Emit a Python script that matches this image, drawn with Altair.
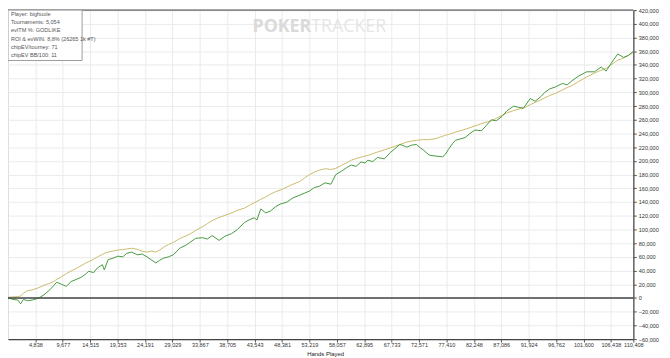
import altair as alt
import pandas as pd

# Hands played (x) and cumulative results (chips)
hands = [0, 859, 1717, 2232, 2747, 3434, 4293, 5151, 5666, 6525, 7383, 8070, 8585, 9444, 10302,
         11161, 12019, 12878, 13736, 14251, 15110, 15796, 16655, 16998, 17685, 18544, 19402, 20261,
         20947, 21806, 22836, 23695, 24553, 25412, 26098, 26785, 27472, 28331, 29189, 30391, 31421,
         32280, 33138, 34340, 35199, 36057, 37259, 38289, 39491, 40521, 41723, 42582, 43440, 43955,
         44642, 45501, 46359, 47218, 48076, 49278, 50308, 51510, 52369, 53227, 54086, 54944, 55974,
         57004, 57863, 58893, 59752, 60610, 61469, 62327, 63014, 63529, 64388, 65246, 66448, 67478,
         68337, 69195, 69882, 70397, 71256, 72114, 72629, 73316, 74346, 75548, 76750, 77265, 77780,
         78467, 78982, 79841, 80699, 81558, 82416, 83618, 84476, 85335, 86193, 87224, 88082, 89284,
         90143, 91001, 92203, 93061, 94092, 94778, 95637, 96667, 97869, 98728, 99586, 100788, 102162,
         103535, 104737, 105596, 106454, 107656, 108686, 109545, 110408]

net_won = [0, -2000, -3000, -8500, -2000, -4000, -3000, -1000, 1000, 5700, 12000, 18000, 23000, 20000,
           17000, 24000, 27000, 30000, 35000, 39000, 37000, 44000, 48500, 41000, 56000, 58000, 61000,
           60000, 65000, 67000, 63000, 64000, 60000, 55000, 51000, 55000, 58000, 60000, 63000, 73000,
           77000, 82000, 87000, 88000, 86000, 91000, 84000, 90000, 94000, 100000, 110000, 114000,
           117000, 114000, 130000, 124000, 127000, 133000, 137000, 140000, 146000, 150000, 153000,
           156000, 161000, 163000, 168000, 166000, 180000, 185000, 190000, 194000, 192000, 198500,
           197000, 201000, 199000, 205000, 203000, 212000, 218000, 224000, 222000, 220000, 223000,
           224000, 220000, 216000, 208500, 207000, 206000, 210000, 217000, 225000, 230000, 232000,
           234000, 240000, 245000, 244000, 252000, 260000, 258500, 265000, 273000, 280000, 278000,
           277000, 291000, 287000, 294000, 300000, 305000, 308000, 313000, 311000, 317000, 324000,
           330000, 330000, 337000, 331000, 342000, 356000, 351000, 354000, 360000]

ev_won = [1000, 1500, 2000, 3000, 7000, 10500, 12000, 14000, 16000, 19000, 21500, 24000, 27000, 31000,
          35500, 39500, 43000, 47000, 51000, 53000, 56500, 60000, 63500, 65000, 67000, 68500, 70000,
          70500, 71500, 72500, 71000, 68000, 67000, 68500, 67000, 70000, 74000, 78000, 81000, 87000,
          90500, 94000, 98500, 104000, 108500, 113000, 117500, 120500, 124000, 128000, 131000, 135000,
          139000, 141000, 144000, 147500, 151500, 155000, 157500, 162000, 166000, 170000, 175000,
          180000, 183500, 186500, 188500, 187500, 189000, 193500, 197000, 201000, 203500, 205500,
          207000, 208000, 210500, 213000, 216000, 219000, 221500, 224000, 226000, 227500, 229000,
          230000, 230500, 231000, 231000, 232500, 236000, 237500, 238500, 240500, 242000, 244000,
          246000, 248500, 251000, 254500, 256500, 258500, 262000, 266500, 270000, 273500, 275500,
          277000, 282000, 285500, 289000, 292000, 295500, 298500, 303500, 307000, 310000, 316000,
          322500, 328000, 332500, 335000, 340000, 347000, 350000, 354000, 358000]

x_ticks = [4838, 9677, 14515, 19353, 24191, 29029, 33867, 38705, 43543, 48381, 53219, 58057, 62895,
           67733, 72571, 77410, 82248, 87086, 91924, 96762, 101600, 106438, 110408]
y_ticks = [-60000, -40000, -20000, 0, 20000, 40000, 60000, 80000, 100000, 120000, 140000, 160000,
           180000, 200000, 220000, 240000, 260000, 280000, 300000, 320000, 340000, 360000, 380000,
           400000, 420000]

info_lines = ["Player: bighuole", "Tournaments: 5,054", "evITM %: GODLIKE",
              "ROI & evWIN: 8,8% (26265 1k #T)", "chipEV/tourney: 71", "chipEV BB/100: 11"]

series_names = ["EV", "Net Won"]
series_colors = ["#c9bb6c", "#45993f"]

df = pd.concat([
    pd.DataFrame({"hands": hands, "value": ev_won, "series": "EV", "order": 0}),
    pd.DataFrame({"hands": hands, "value": net_won, "series": "Net Won", "order": 1}),
])

x_scale = alt.Scale(domain=[0, 110408], nice=False, zero=False)
y_scale = alt.Scale(domain=[-60000, 420000], nice=False)

lines = alt.Chart(df).mark_line(strokeWidth=1, clip=True).encode(
    x=alt.X("hands:Q", scale=x_scale,
            axis=alt.Axis(title="Hands Played", values=x_ticks, tickCount=50, format=",.0f", grid=True,
                          gridColor="#ebebeb", domainColor="#444", domainWidth=1.2,
                          tickColor="#555", tickSize=3, labelFontSize=5.6, labelColor="#333",
                          labelPadding=1, titleFontSize=6, titleFontWeight="normal",
                          titleColor="#222", titlePadding=2, titleX=321, labelFlush=False,
                          labelOverlap=False)),
    y=alt.Y("value:Q", scale=y_scale,
            axis=alt.Axis(title=None, orient="right", values=y_ticks, tickCount=50, format=",.0f",
                          grid=True, gridColor="#ebebeb", domainColor="#444", domainWidth=1.2,
                          tickColor="#555", tickSize=3, labelFontSize=5.6, labelColor="#333",
                          labelPadding=2, labelOverlap=False, labelFlush=False)),
    color=alt.Color("series:N", scale=alt.Scale(domain=series_names, range=series_colors), legend=None),
    order="order:Q",
    detail="series:N",
)

one = pd.DataFrame({"a": [0]})

zero_rule = alt.Chart(one).mark_rule(color="#444", strokeWidth=1.4).encode(
    y=alt.datum(0, scale=y_scale), x=alt.value(0), x2=alt.value(633))

top_rule = alt.Chart(one).mark_rule(color="#8a8a8a", strokeWidth=1.6).encode(
    y=alt.value(0), x=alt.value(0), x2=alt.value(633))

wm1 = alt.Chart(one).mark_text(text="POKER", font="Open Sans", fontSize=18, fontWeight="bold",
                               color="#dadada", align="right", baseline="middle").encode(
    x=alt.value(307), y=alt.value(17))
wm2 = alt.Chart(one).mark_text(text="TRACKER", font="Open Sans", fontSize=18, fontWeight="normal",
                               color="#e6e6e6", align="left", baseline="middle").encode(
    x=alt.value(307), y=alt.value(17))

box = alt.Chart(one).mark_rect(fill="white", stroke="#9a9a9a", strokeWidth=1).encode(
    x=alt.value(0), x2=alt.value(75), y=alt.value(0), y2=alt.value(51))

info = alt.Chart(one).mark_text(text=info_lines, font="Liberation Sans", fontSize=5.6,
                                color="#555", align="left", baseline="top",
                                lineHeight=8.3).encode(
    x=alt.value(3), y=alt.value(2))

chart = alt.layer(wm1, wm2, lines, zero_rule, top_rule, box, info).properties(
    width=633, height=333,
    autosize=alt.AutoSizeParams(type="none"),
    padding={"left": 0, "top": 0, "right": 29, "bottom": 17},
).configure_view(stroke=None).configure(background="white", font="Liberation Sans")

chart.save("out.html", embed_options={"renderer": "svg", "actions": False})
